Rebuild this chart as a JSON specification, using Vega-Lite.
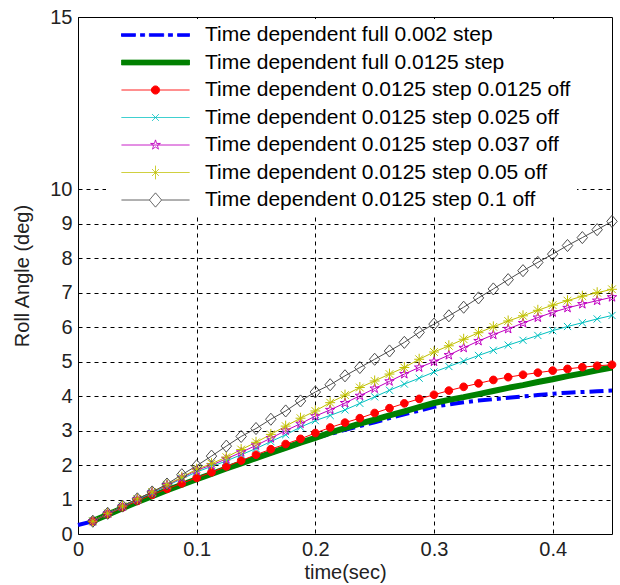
{
"$schema":"https://vega.github.io/schema/vega-lite/v6.json",
"width":534,"height":517,"autosize":"none",
"padding":{"left":78,"top":17,"right":8,"bottom":51},
"background":"white",
"config":{"view":{"stroke":"black","strokeWidth":1},"font":"Liberation Sans"},
"data":{"values":[
{"t":0,"b":0.26},
{"t":0.0125,"b":0.37,"g":0.38,"r":0.37,"c":0.37,"m":0.37,"y":0.37,"k":0.37},
{"t":0.025,"b":0.56,"g":0.56,"r":0.57,"c":0.59,"m":0.6,"y":0.6,"k":0.6},
{"t":0.0375,"b":0.75,"g":0.75,"r":0.77,"c":0.79,"m":0.8,"y":0.81,"k":0.81},
{"t":0.05,"b":0.93,"g":0.93,"r":0.96,"c":1.0,"m":1.01,"y":1.02,"k":1.02},
{"t":0.0625,"b":1.1,"g":1.1,"r":1.14,"c":1.19,"m":1.21,"y":1.22,"k":1.22},
{"t":0.075,"b":1.27,"g":1.27,"r":1.31,"c":1.4,"m":1.42,"y":1.43,"k":1.45},
{"t":0.0875,"b":1.43,"g":1.43,"r":1.47,"c":1.6,"m":1.63,"y":1.65,"k":1.72},
{"t":0.1,"b":1.59,"g":1.59,"r":1.63,"c":1.8,"m":1.85,"y":1.88,"k":1.98},
{"t":0.1125,"b":1.74,"g":1.74,"r":1.79,"c":1.96,"m":2.0,"y":2.04,"k":2.26},
{"t":0.125,"b":1.89,"g":1.9,"r":1.96,"c":2.12,"m":2.18,"y":2.23,"k":2.55},
{"t":0.1375,"b":2.04,"g":2.05,"r":2.13,"c":2.3,"m":2.37,"y":2.45,"k":2.83},
{"t":0.15,"b":2.19,"g":2.2,"r":2.3,"c":2.48,"m":2.57,"y":2.66,"k":3.06},
{"t":0.1625,"b":2.34,"g":2.35,"r":2.46,"c":2.68,"m":2.78,"y":2.89,"k":3.33},
{"t":0.175,"b":2.49,"g":2.5,"r":2.61,"c":2.88,"m":3.0,"y":3.13,"k":3.57},
{"t":0.1875,"b":2.64,"g":2.65,"r":2.76,"c":3.1,"m":3.2,"y":3.36,"k":3.86},
{"t":0.2,"b":2.78,"g":2.79,"r":2.93,"c":3.29,"m":3.42,"y":3.57,"k":4.12},
{"t":0.2125,"b":2.9,"g":2.94,"r":3.09,"c":3.44,"m":3.6,"y":3.81,"k":4.33},
{"t":0.225,"b":3.02,"g":3.07,"r":3.23,"c":3.6,"m":3.8,"y":4.03,"k":4.59},
{"t":0.2375,"b":3.13,"g":3.2,"r":3.36,"c":3.79,"m":4.01,"y":4.25,"k":4.83},
{"t":0.25,"b":3.24,"g":3.32,"r":3.51,"c":3.98,"m":4.22,"y":4.44,"k":5.07},
{"t":0.2625,"b":3.36,"g":3.44,"r":3.65,"c":4.17,"m":4.43,"y":4.64,"k":5.31},
{"t":0.275,"b":3.47,"g":3.56,"r":3.79,"c":4.35,"m":4.64,"y":4.83,"k":5.56},
{"t":0.2875,"b":3.58,"g":3.68,"r":3.92,"c":4.52,"m":4.83,"y":5.07,"k":5.85},
{"t":0.3,"b":3.69,"g":3.8,"r":4.04,"c":4.7,"m":5.0,"y":5.28,"k":6.09},
{"t":0.3125,"b":3.76,"g":3.89,"r":4.16,"c":4.86,"m":5.19,"y":5.46,"k":6.33},
{"t":0.325,"b":3.82,"g":3.97,"r":4.27,"c":5.02,"m":5.4,"y":5.65,"k":6.58},
{"t":0.3375,"b":3.87,"g":4.06,"r":4.37,"c":5.18,"m":5.6,"y":5.84,"k":6.85},
{"t":0.35,"b":3.91,"g":4.15,"r":4.47,"c":5.33,"m":5.78,"y":6.01,"k":7.11},
{"t":0.3625,"b":3.95,"g":4.24,"r":4.55,"c":5.48,"m":5.95,"y":6.18,"k":7.38},
{"t":0.375,"b":3.99,"g":4.32,"r":4.62,"c":5.62,"m":6.12,"y":6.33,"k":7.64},
{"t":0.3875,"b":4.03,"g":4.41,"r":4.68,"c":5.76,"m":6.28,"y":6.49,"k":7.88},
{"t":0.4,"b":4.07,"g":4.49,"r":4.74,"c":5.9,"m":6.43,"y":6.64,"k":8.12},
{"t":0.4125,"b":4.1,"g":4.58,"r":4.79,"c":6.02,"m":6.56,"y":6.77,"k":8.37},
{"t":0.425,"b":4.12,"g":4.66,"r":4.84,"c":6.13,"m":6.67,"y":6.9,"k":8.6},
{"t":0.4375,"b":4.14,"g":4.75,"r":4.88,"c":6.24,"m":6.77,"y":7.0,"k":8.83},
{"t":0.45,"b":4.16,"g":4.83,"r":4.91,"c":6.34,"m":6.87,"y":7.1,"k":9.07}
]},
"transform":[{"fold":["b","g","r","c","m","y","k"],"as":["series","v"]},{"filter":"isValid(datum.v)"}],
"encoding":{
"x":{"field":"t","type":"quantitative","scale":{"domain":[0,0.45],"nice":false},
 "axis":{"values":[0,0.1,0.2,0.3,0.4],"format":"~g","title":"time(sec)","grid":true,"gridColor":"black","gridDash":[4,4],"gridWidth":1,"gridOpacity":1,"domain":false,"ticks":false,"labelFontSize":20,"labelColor":"#222","labelPadding":5,"labelFlush":false,"titleFontSize":20,"titleFontWeight":"normal","titleColor":"#222","titlePadding":3}},
"y":{"field":"v","type":"quantitative","scale":{"domain":[0,15],"nice":false},
 "axis":{"values":[0,1,2,3,4,5,6,7,8,9,10,15],"title":"Roll Angle (deg)","grid":true,"gridColor":"black","gridDash":[4,4],"gridWidth":1,"gridOpacity":1,"domain":false,"ticks":false,"labelFontSize":20,"labelColor":"#222","labelPadding":6,"labelFlush":false,"titleFontSize":20,"titleFontWeight":"normal","titleColor":"#222","titlePadding":17}}
},
"layer":[
{"transform":[{"filter":"datum.series==='b'"}],
 "mark":{"type":"line","strokeWidth":4,"strokeDash":[14,5,4,5],"strokeCap":"butt"},
 "encoding":{"color":{"field":"series","type":"nominal",
  "scale":{"domain":["b","g","r","c","m","y","k"],"range":["#0000ff","#008000","#ff0000","#00c0c0","#c000c0","#c0c000","#4d4d4d"]},
  "legend":{"orient":"none","legendX":28,"legendY":2,"title":null,"padding":6,"fillColor":"white",
   "labelFontSize":21,"labelFont":"Liberation Sans","labelColor":"black","labelLimit":700,"labelOffset":15,
   "symbolSize":4624,"symbolStrokeWidth":1,"symbolOffset":9,"clipHeight":20,"rowPadding":6.5,
   "labelExpr":"['Time dependent full 0.002 step','Time dependent full 0.0125 step','Time dependent 0.0125 step 0.0125 off','Time dependent 0.0125 step 0.025 off','Time dependent 0.0125 step 0.037 off','Time dependent 0.0125 step 0.05 off','Time dependent 0.0125 step 0.1 off'][indexof(['b','g','r','c','m','y','k'],datum.value)]",
   "encode":{"symbols":{"update":{
    "shape":{"signal":"['M-1,-0.04H-0.59V0.04H-1ZM-0.44,-0.04H-0.32V0.04H-0.44ZM-0.18,-0.04H0.24V0.04H-0.18ZM0.38,-0.04H0.5V0.04H0.38ZM0.65,-0.04H1V0.04H0.65Z','M-1,-0.07H1V0.07H-1Z','M-1,0H1M-0.12,0A0.12,0.12 0 1,0 0.12,0A0.12,0.12 0 1,0 -0.12,0Z','M-1,0H1M-0.1,-0.1L0.1,0.1M-0.1,0.1L0.1,-0.1','M-1,0H1M0,-0.15L0.034,-0.046L0.143,-0.046L0.055,0.018L0.088,0.121L0,0.057L-0.088,0.121L-0.055,0.018L-0.143,-0.046L-0.034,-0.046Z','M-1,0H1M0,-0.2V0.2M-0.1,-0.1L0.1,0.1M-0.1,0.1L0.1,-0.1','M-1,0H-0.18M0.18,0H1M0,-0.21L0.18,0L0,0.21L-0.18,0Z'][indexof(['b','g','r','c','m','y','k'],datum.value)]"},
    "fill":{"signal":"['#0000ff','#008000','#ff0000','transparent','transparent','transparent','transparent'][indexof(['b','g','r','c','m','y','k'],datum.value)]"},
    "stroke":{"signal":"['#0000ff','#008000','#ff0000','#00c0c0','#c000c0','#c0c000','#777777'][indexof(['b','g','r','c','m','y','k'],datum.value)]"},
    "strokeWidth":{"value":1},
    "strokeDash":{"value":[1,0]},
    "opacity":{"value":1},
    "size":{"value":4624}
   }}}
  }}}},
{"transform":[{"filter":"datum.series==='g'"}],
 "mark":{"type":"line","strokeWidth":6},
 "encoding":{"color":{"field":"series","type":"nominal"}}},
{"transform":[{"filter":"indexof(['r','c','m','y','k'],datum.series)>=0"}],
 "mark":{"type":"line","strokeWidth":1},
 "encoding":{"color":{"field":"series","type":"nominal"}}},
{"transform":[{"filter":"indexof(['r','c','m','y','k'],datum.series)>=0"}],
 "mark":{"type":"point","filled":false,"opacity":1,"strokeWidth":1,"size":121},
 "encoding":{"color":{"field":"series","type":"nominal"},
  "shape":{"field":"series","type":"nominal","legend":null,
   "scale":{"domain":["r","c","m","y","k"],"range":["M-0.7,0A0.7,0.7 0 1,0 0.7,0A0.7,0.7 0 1,0 -0.7,0Z","M-0.65,-0.65L0.65,0.65M-0.65,0.65L0.65,-0.65","M0,-0.9L0.202,-0.278L0.856,-0.278L0.327,0.106L0.529,0.728L0,0.344L-0.529,0.728L-0.327,0.106L-0.856,-0.278L-0.202,-0.278Z","M0,-1.0V1.0M-0.9,0H0.9M-0.7,-0.7L0.7,0.7M-0.7,0.7L0.7,-0.7","M0,-1.1L0.95,0L0,1.1L-0.95,0Z"]}},
  "fill":{"condition":{"test":"datum.series==='r'","value":"#ff0000"},"value":"transparent"}}}
]
}
